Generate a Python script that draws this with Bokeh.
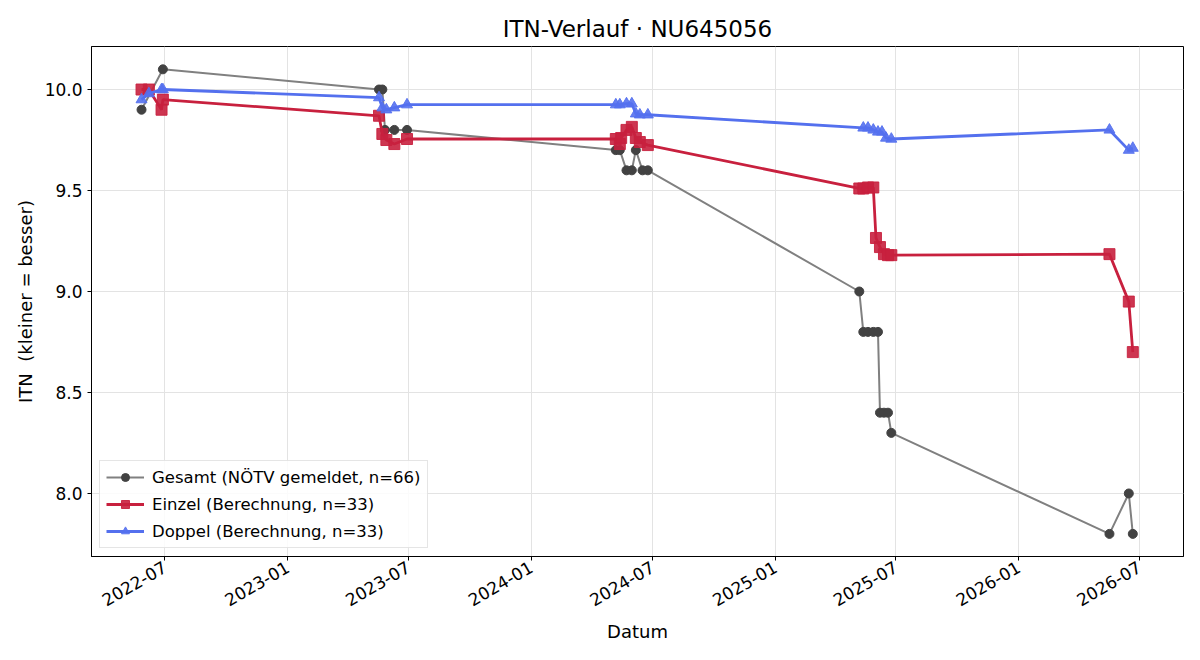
import math
import pandas as pd
from bokeh.plotting import figure
from bokeh.models import Range1d, FixedTicker, DatetimeTickFormatter, NumeralTickFormatter
from bokeh.embed import file_html
from bokeh.resources import INLINE

# ---- data ----
gesamt_dates = ["2022-05-27", "2022-06-28", "2023-05-18", "2023-05-23", "2023-05-27", "2023-06-10",
                "2023-06-29", "2024-05-07", "2024-05-13", "2024-05-23", "2024-05-31", "2024-06-06",
                "2024-06-16", "2024-06-24", "2025-05-07", "2025-05-13", "2025-05-20", "2025-05-28",
                "2025-06-04", "2025-06-07", "2025-06-13", "2025-06-19", "2025-06-24", "2026-05-17",
                "2026-06-15", "2026-06-21"]
gesamt_vals = [9.9, 10.1, 10.0, 10.0, 9.8, 9.8, 9.8, 9.7, 9.7, 9.6, 9.6, 9.7, 9.6, 9.6,
               9.0, 8.8, 8.8, 8.8, 8.8, 8.4, 8.4, 8.4, 8.3, 7.8, 8.0, 7.8]

einzel_dates = ["2022-05-27", "2022-06-07", "2022-06-26", "2022-06-28", "2023-05-18", "2023-05-23",
                "2023-05-29", "2023-06-10", "2023-06-29", "2024-05-07", "2024-05-13", "2024-05-15",
                "2024-05-23", "2024-05-31", "2024-06-06", "2024-06-12", "2024-06-24", "2025-05-07",
                "2025-05-13", "2025-05-20", "2025-05-28", "2025-06-01", "2025-06-07", "2025-06-13",
                "2025-06-19", "2025-06-24", "2026-05-17", "2026-06-15", "2026-06-21"]
einzel_vals = [10.0, 10.0, 9.9, 9.95, 9.87, 9.78, 9.75, 9.73, 9.755, 9.755, 9.73, 9.76,
               9.80, 9.815, 9.76, 9.74, 9.725, 9.51, 9.51, 9.515, 9.515, 9.265, 9.22, 9.185,
               9.18, 9.18, 9.185, 8.95, 8.70]

doppel_dates = ["2022-05-27", "2022-06-07", "2022-06-26", "2022-06-28", "2023-05-18", "2023-05-23",
                "2023-05-29", "2023-06-10", "2023-06-29", "2024-05-07", "2024-05-13", "2024-05-23",
                "2024-05-31", "2024-06-06", "2024-06-12", "2024-06-24", "2025-05-13", "2025-05-20",
                "2025-05-28", "2025-06-04", "2025-06-10", "2025-06-16", "2025-06-24", "2026-05-17",
                "2026-06-15", "2026-06-21"]
doppel_vals = [9.95, 9.98, 10.0, 10.0, 9.96, 9.91, 9.90, 9.91, 9.925, 9.925, 9.925, 9.93,
               9.93, 9.88, 9.875, 9.875, 9.81, 9.81, 9.80, 9.79, 9.79, 9.76, 9.755, 9.80,
               9.70, 9.71]

x_ticks = ["2022-07-01", "2023-01-01", "2023-07-01", "2024-01-01", "2024-07-01",
           "2025-01-01", "2025-07-01", "2026-01-01", "2026-07-01"]
y_ticks = [8.0, 8.5, 9.0, 9.5, 10.0]

labels = ["Gesamt (NÖTV gemeldet, n=66)", "Einzel (Berechnung, n=33)", "Doppel (Berechnung, n=33)"]

FONT = "DejaVu Sans"

p = figure(width=1200, height=660, x_axis_type="datetime", output_backend="svg",
           toolbar_location=None, title="ITN-Verlauf · NU645056",
           x_range=Range1d(pd.Timestamp("2022-03-13"), pd.Timestamp("2026-09-05")),
           y_range=Range1d(7.688, 10.213),
           min_border_left=91, min_border_right=17, min_border_top=46, min_border_bottom=104)

p.title.align = "center"
p.title.text_font = FONT
p.title.text_font_size = "23px"
p.title.text_font_style = "normal"
p.title.text_color = "black"
p.title.offset = 0

gd = pd.to_datetime(gesamt_dates)
ed = pd.to_datetime(einzel_dates)
dd = pd.to_datetime(doppel_dates)

p.line(gd, gesamt_vals, line_color="#808080", line_width=2, legend_label=labels[0])
p.scatter(gd, gesamt_vals, marker="circle", size=9, fill_color="#424242", line_color="#424242",
          legend_label=labels[0])

p.line(ed, einzel_vals, line_color="#c8203e", line_width=2.8, legend_label=labels[1])
p.scatter(ed, einzel_vals, marker="square", size=11, fill_color="#c8203e", line_color="#c8203e",
          fill_alpha=0.9, line_alpha=0.9, legend_label=labels[1])

p.line(dd, doppel_vals, line_color="#5470ee", line_width=2.8, legend_label=labels[2])
p.scatter(dd, doppel_vals, marker="triangle", size=11, fill_color="#5470ee", line_color="#5470ee",
          fill_alpha=0.9, line_alpha=0.9, legend_label=labels[2])

# axes
tick_ms = [pd.Timestamp(t).value / 1e6 for t in x_ticks]
p.xaxis.ticker = FixedTicker(ticks=tick_ms)
fmt = "%Y-%m"
p.xaxis.formatter = DatetimeTickFormatter(years=fmt, months=fmt, days=fmt, hours=fmt,
                                          minutes=fmt, seconds=fmt, milliseconds=fmt,
                                          microseconds=fmt, hourmin=fmt, minsec=fmt)
p.xaxis.major_label_orientation = math.radians(30)
p.yaxis.ticker = FixedTicker(ticks=y_ticks)
p.yaxis.formatter = NumeralTickFormatter(format="0.0")

p.xaxis.axis_label = "Datum"
p.yaxis.axis_label = "ITN\u00a0\u00a0(kleiner = besser)"
for ax in (p.xaxis, p.yaxis):
    ax.axis_label_text_font = FONT
    ax.axis_label_text_font_size = "18px"
    ax.axis_label_text_font_style = "normal"
    ax.axis_label_text_color = "black"
    ax.major_label_text_font = FONT
    ax.major_label_text_font_size = "17px"
    ax.major_label_text_color = "black"
    ax.axis_line_color = "black"
    ax.major_tick_line_color = "black"
    ax.major_tick_out = 4
    ax.major_tick_in = 0
    ax.minor_tick_line_color = None
    ax.axis_label_standoff = 6

p.outline_line_color = "black"
p.outline_line_alpha = 1
p.xgrid.grid_line_color = "#e3e3e3"
p.ygrid.grid_line_color = "#e3e3e3"

p.legend.location = "bottom_left"
p.legend.label_text_font = FONT
p.legend.label_text_font_size = "16.5px"
p.legend.label_text_color = "black"
p.legend.border_line_color = "#cccccc"
p.legend.background_fill_alpha = 0.85
p.legend.glyph_width = 38
p.legend.spacing = 7
p.legend.padding = 6
p.legend.margin = 8
p.legend.label_standoff = 8

open("out.html", "w").write(file_html(p, INLINE))
